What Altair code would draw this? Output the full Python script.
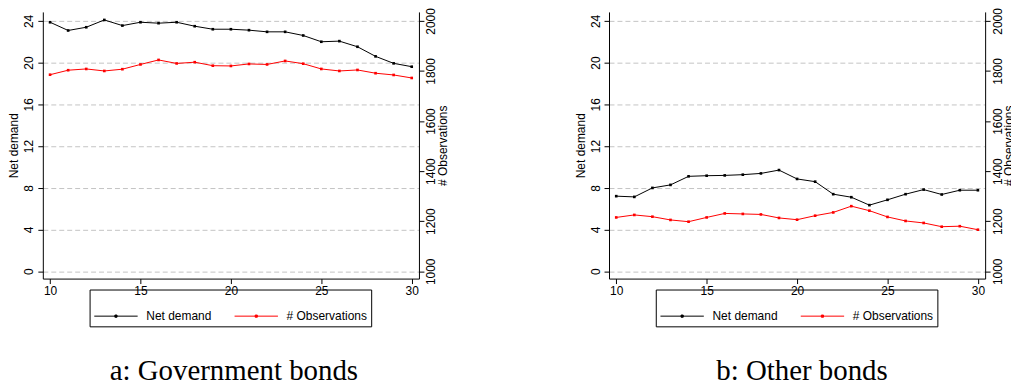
import altair as alt
import pandas as pd

maturity = list(range(10, 31))

gov_net_demand = [23.87, 23.08, 23.39, 24.09, 23.55, 23.87, 23.78, 23.87, 23.49, 23.20, 23.20,
                  23.11, 22.95, 22.95, 22.60, 22.00, 22.06, 21.52, 20.60, 19.93, 19.61]
gov_obs = [1785, 1803, 1808, 1800, 1807, 1826, 1844, 1830, 1835, 1821, 1820,
           1828, 1826, 1840, 1829, 1808, 1800, 1804, 1791, 1784, 1772]

oth_net_demand = [7.20, 7.13, 7.99, 8.28, 9.10, 9.16, 9.19, 9.26, 9.38, 9.70, 8.85,
                  8.59, 7.39, 7.10, 6.34, 6.85, 7.39, 7.83, 7.36, 7.77, 7.77]
oth_obs = [1215, 1225, 1218, 1205, 1198, 1215, 1231, 1229, 1227, 1213, 1206,
           1222, 1235, 1260, 1242, 1217, 1201, 1193, 1178, 1180, 1166]

series_names = ["Net demand", "# Observations"]
series_colors = ["black", "red"]
captions = ["a: Government bonds", "b: Other bonds"]
caption_shift = [3, 5]

left_ticks = [0, 4, 8, 12, 16, 20, 24]
right_ticks = [1000, 1200, 1400, 1600, 1800, 2000]
x_ticks = [10, 15, 20, 25, 30]

SANS = "Liberation Sans"
SERIF = "Liberation Serif"

legend_symbol = "M-1,0L1,0M-0.05,-0.05L0.05,-0.05L0.05,0.05L-0.05,0.05Z"


def panel(net, obs, caption, shift):
    df = pd.DataFrame({"maturity": maturity, "net": net, "obs": obs})
    df_net = df.assign(series=series_names[0])
    df_obs = df.assign(series=series_names[1])

    color = alt.Color(
        "series:N",
        scale=alt.Scale(domain=series_names, range=series_colors),
        legend=alt.Legend(
            title=None,
            orient="none",
            legendX=47,
            legendY=279,
            direction="horizontal",
            strokeColor="black",
            padding=4,
            symbolType=legend_symbol,
            symbolSize=1900,
            symbolStrokeWidth=1,
            labelFont=SANS,
            labelFontSize=12,
            labelColor="black",
            labelOffset=8,
            columnPadding=20,
        ),
    )
    x = alt.X(
        "maturity:Q",
        scale=alt.Scale(domain=[9.6, 30.4], nice=False, zero=False),
        axis=alt.Axis(values=x_ticks, title=None, grid=False, labelAngle=0,
                      labelPadding=2),
    )
    pt = alt.OverlayMarkDef(shape="square", size=7, filled=True)

    net_line = alt.Chart(df_net).mark_line(strokeWidth=1, point=pt).encode(
        x=x,
        y=alt.Y(
            "net:Q",
            scale=alt.Scale(domain=[-0.7, 24.86], nice=False, zero=False),
            axis=alt.Axis(orient="left", values=left_ticks, title="Net demand",
                          grid=True, gridDash=[5, 3], gridColor="#c4c4c4",
                          labelAngle=270, titlePadding=2, labelPadding=2,
                          format="d"),
        ),
        color=color,
    )
    obs_line = alt.Chart(df_obs).mark_line(strokeWidth=1, point=pt).encode(
        x=x,
        y=alt.Y(
            "obs:Q",
            scale=alt.Scale(domain=[970.8, 2035.8], nice=False, zero=False),
            axis=alt.Axis(orient="right", values=right_ticks, title="# Observations",
                          grid=False, labelAngle=270, titleAngle=270,
                          titleBaseline="top", titlePadding=1, labelPadding=2,
                          format="d"),
        ),
        color=color,
    )
    return (
        alt.layer(net_line, obs_line)
        .resolve_scale(y="independent")
        .properties(
            width=378,
            height=268,
            title=alt.TitleParams(caption, orient="bottom", anchor="middle",
                                  font=SERIF, fontSize=29, fontWeight="normal",
                                  color="black", offset=30, dx=shift),
        )
    )


chart = (
    alt.hconcat(
        panel(gov_net_demand, gov_obs, captions[0], caption_shift[0]),
        panel(oth_net_demand, oth_obs, captions[1], caption_shift[1]),
        spacing=126,
    )
    .resolve_scale(color="independent")
    .configure_view(stroke=None)
    .configure_axis(
        labelFont=SANS,
        labelFontSize=12,
        labelColor="black",
        titleFont=SANS,
        titleFontSize=12,
        titleFontWeight="normal",
        titleColor="black",
        domainColor="black",
        tickColor="black",
        tickSize=5,
        domainWidth=1,
    )
    .properties(padding={"left": 0, "top": -2, "right": -4, "bottom": -5},
                background="white")
)

chart.save("out.html", embed_options={"renderer": "svg", "actions": False})
